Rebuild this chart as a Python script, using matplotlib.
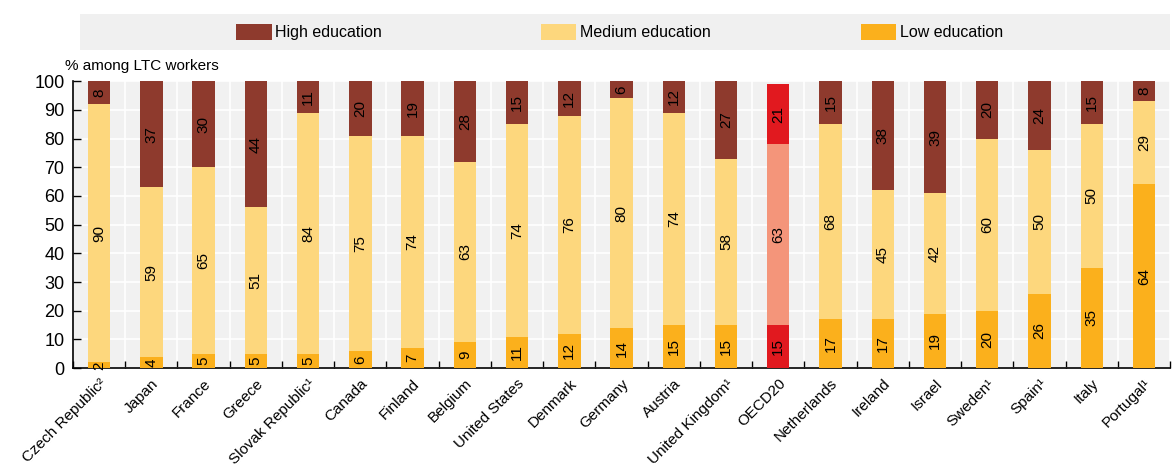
import numpy as np
import matplotlib.pyplot as plt
import matplotlib.ticker as ticker
from matplotlib.patches import Rectangle

plt.rcParams['font.family'] = ['Liberation Sans', 'DejaVu Sans']

countries = ['Czech Republic²', 'Japan', 'France', 'Greece', 'Slovak Republic¹', 'Canada',
             'Finland', 'Belgium', 'United States', 'Denmark', 'Germany', 'Austria',
             'United Kingdom¹', 'OECD20', 'Netherlands', 'Ireland', 'Israel', 'Sweden¹',
             'Spain¹', 'Italy', 'Portugal¹']
low = [2, 4, 5, 5, 5, 6, 7, 9, 11, 12, 14, 15, 15, 15, 17, 17, 19, 20, 26, 35, 64]
medium = [90, 59, 65, 51, 84, 75, 74, 63, 74, 76, 80, 74, 58, 63, 68, 45, 42, 60, 50, 50, 29]
high = [8, 37, 30, 44, 11, 20, 19, 28, 15, 12, 6, 12, 27, 21, 15, 38, 39, 20, 24, 15, 8]

c_high = '#8E3A2D'
c_med = '#FDD77D'
c_low = '#FBB01C'
oecd_high = '#E1191F'
oecd_med = '#F4957A'
oecd_low = '#E1191F'

fig = plt.figure(figsize=(11.76, 4.72), dpi=100)
ax = fig.add_axes([0.062, 0.22, 0.933, 0.608])
ax.set_facecolor('#F1F1F1')

x = np.arange(len(countries))
low = np.array(low); medium = np.array(medium); high = np.array(high)
ch = [oecd_high if c == 'OECD20' else c_high for c in countries]
cm = [oecd_med if c == 'OECD20' else c_med for c in countries]
cl = [oecd_low if c == 'OECD20' else c_low for c in countries]

w = 0.43
ax.bar(x, low, w, color=cl, zorder=3)
ax.bar(x, medium, w, bottom=low, color=cm, zorder=3)
ax.bar(x, high, w, bottom=low + medium, color=ch, zorder=3)

# value labels, centred in each segment (kept inside 0-100)
for i in range(len(x)):
    segs = [(low[i], 0), (medium[i], low[i]), (high[i], low[i] + medium[i])]
    for v, b in segs:
        ax.text(x[i], min(b + v / 2, (b + 100) / 2), str(v), rotation=90, ha='center',
                va='center', fontsize=11, color='black', zorder=4)

ax.set_xlim(-0.5, len(x) - 0.5)
ax.set_ylim(0, 100)
ax.yaxis.set_major_locator(ticker.MultipleLocator(10))
ax.set_xticks(x)
ax.set_xticklabels(countries, rotation=45, ha='right', rotation_mode='anchor', fontsize=11)
ax.set_xticks(np.arange(-0.5, len(x), 1), minor=True)
ax.tick_params(axis='x', which='major', length=0, pad=6)
ax.tick_params(axis='x', which='minor', direction='in', length=5, width=1)
ax.tick_params(axis='y', direction='in', length=6, width=1, labelsize=13, pad=6)

ax.grid(axis='y', color='white', linewidth=1.2, zorder=0)
ax.grid(axis='x', which='minor', color='white', linewidth=1.2, zorder=0)
ax.set_axisbelow(True)
for s in ['top', 'right']:
    ax.spines[s].set_visible(False)
ax.spines['left'].set_linewidth(1.2)
ax.spines['bottom'].set_linewidth(1.2)

fig.text(0.055, 0.845, '% among LTC workers', fontsize=11, ha='left', va='bottom')

# legend band
fig.patches.append(Rectangle((0.068, 0.895), 0.927, 0.075, transform=fig.transFigure,
                             facecolor='#F0F0F0', edgecolor='none'))
entries = [('High education', c_high, 0.201), ('Medium education', c_med, 0.460),
           ('Low education', c_low, 0.732)]
for lab, col, xp in entries:
    fig.patches.append(Rectangle((xp, 0.915), 0.030, 0.034, transform=fig.transFigure,
                                 facecolor=col, edgecolor='none'))
    fig.text(xp + 0.033, 0.932, lab, fontsize=11.5, ha='left', va='center')

fig.savefig('out.png', dpi=100)
